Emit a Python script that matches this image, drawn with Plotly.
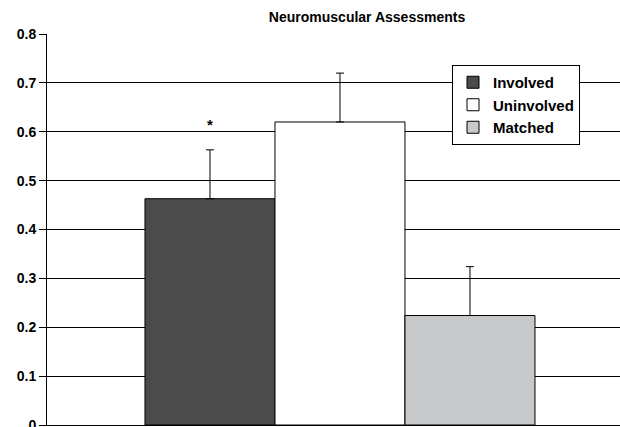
import plotly.graph_objects as go

categories = ["Neuromuscular Assessments"]
groups = ["Involved", "Uninvolved", "Matched"]
means = [0.463, 0.62, 0.224]
errors_plus = [0.1, 0.1, 0.1]
colors = ["#4a4b4a", "#ffffff", "#c8c9cb"]
y_ticks = [0, 0.1, 0.2, 0.3, 0.4, 0.5, 0.6, 0.7, 0.8]
y_tick_labels = ["0", "0.1", "0.2", "0.3", "0.4", "0.5", "0.6", "0.7", "0.8"]
star_label = "*"
star_y = 0.615

FONT = "Arial, Liberation Sans, sans-serif"

fig = go.Figure()
for g, m, e, c in zip(groups, means, errors_plus, colors):
    fig.add_trace(go.Bar(
        x=categories, y=[m], name="<b>%s</b>" % g,
        marker=dict(color=c, line=dict(color="#000000", width=1)),
        error_y=dict(type="data", symmetric=False, array=[e], arrayminus=[0],
                     color="#000000", thickness=1, width=4),
    ))

bargap = 0.35
group_w = 1 - bargap
star_x = -group_w / 2 + group_w / 6

fig.add_annotation(x=star_x, y=star_y, xref="x", yref="y", text="<b>%s</b>" % star_label,
                   showarrow=False, font=dict(family=FONT, size=15, color="#000"),
                   yanchor="middle")

fig.update_layout(
    width=620, height=427,
    margin=dict(l=47, r=0, t=34, b=2, autoexpand=False),
    paper_bgcolor="white", plot_bgcolor="white",
    barmode="group", bargap=bargap, bargroupgap=0,
    font=dict(family=FONT, color="#000"),
    title=dict(text="<b>Neuromuscular Assessments</b>", x=0.592, xanchor="center",
               y=1 - 17 / 427, yanchor="middle", font=dict(size=14, family=FONT)),
    showlegend=True,
    legend=dict(x=(452 - 47) / 573, y=1 - (65 - 34) / 391, xanchor="left", yanchor="top",
                bgcolor="white", bordercolor="#000", borderwidth=1,
                font=dict(size=15, family=FONT), traceorder="normal",
                itemwidth=30, tracegroupgap=0),
    xaxis=dict(range=[-0.4883, 0.4667], showticklabels=False,
               showline=True, linecolor="#000", linewidth=1, ticks="",
               showgrid=False, zeroline=False, automargin=False),
    yaxis=dict(range=[0, 0.8], tickvals=y_ticks, ticktext=["<b>%s</b>" % t for t in y_tick_labels],
               showgrid=True, gridcolor="#000", gridwidth=1,
               showline=True, linecolor="#000", linewidth=1,
               ticks="outside", ticklen=7, tickcolor="#000", ticklabelstandoff=0,
               tickfont=dict(size=14, family=FONT), zeroline=False, automargin=False,
               ticklabeloverflow="allow"),
)

fig.write_html("out.html", post_script="document.body.style.margin='0';",
               config={"displayModeBar": False})
